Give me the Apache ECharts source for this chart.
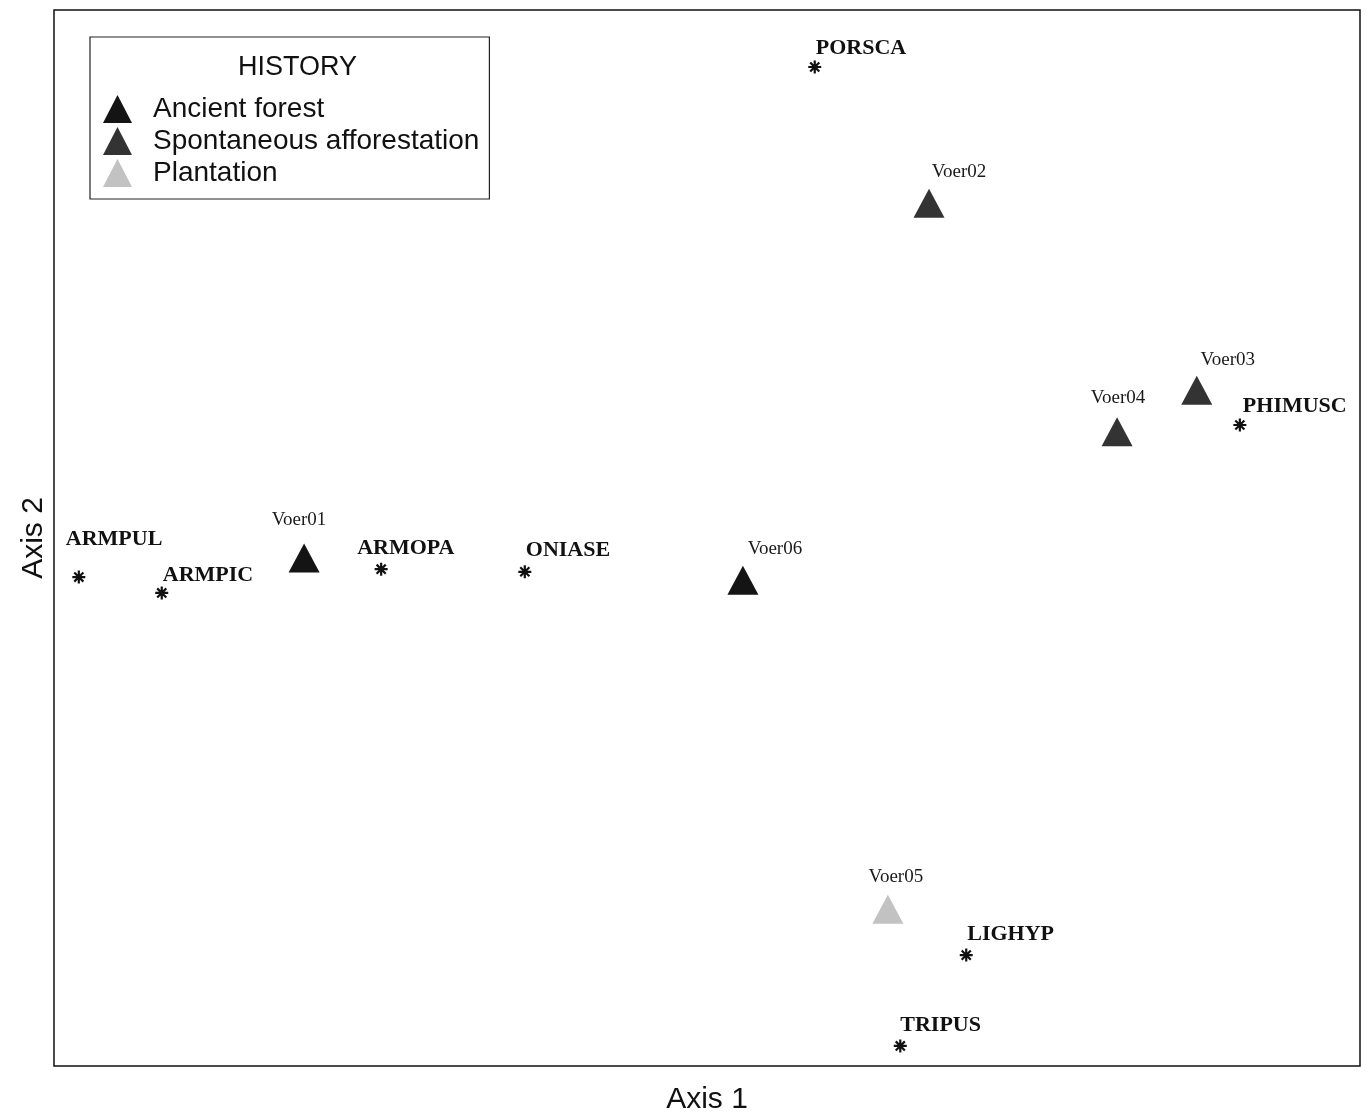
<!DOCTYPE html>
<html>
<head>
<meta charset="utf-8">
<script src="https://cdn.jsdelivr.net/npm/echarts@6/dist/echarts.min.js"></script>
<style>html,body{margin:0;padding:0;background:#fff}#c{width:1367px;height:1113px}</style>
</head>
<body>
<div id="c"></div>
<script>
// ---- data ----
const historyClasses = ['Ancient forest', 'Spontaneous afforestation', 'Plantation'];
const siteNames   = ['Voer01', 'Voer02', 'Voer03', 'Voer04', 'Voer05', 'Voer06'];
const siteHistory = ['Ancient forest', 'Spontaneous afforestation', 'Spontaneous afforestation', 'Spontaneous afforestation', 'Plantation', 'Ancient forest'];
const siteAxis1   = [-0.617, 0.340, 0.750, 0.628, 0.277, 0.055];
const siteAxis2   = [-0.038, 0.634, 0.280, 0.201, -0.703, -0.080];

const speciesNames = ['PORSCA', 'PHIMUSC', 'ARMPUL', 'ARMPIC', 'ARMOPA', 'ONIASE', 'LIGHYP', 'TRIPUS'];
const speciesAxis1 = [0.165, 0.816, -0.962, -0.835, -0.499, -0.279, 0.397, 0.296];
const speciesAxis2 = [0.892, 0.214, -0.074, -0.104, -0.059, -0.064, -0.790, -0.962];

// ---- styling / label placement (not data) ----
const historyColors = {'Ancient forest': '#141414', 'Spontaneous afforestation': '#333333', 'Plantation': '#c2c2c2'};
const labelOffsets = {
  Voer01: [-5, -38], Voer02: [30, -31], Voer03: [31, -30], Voer04: [1, -34], Voer05: [8, -32], Voer06: [32, -31],
  PORSCA: [1, -19], PHIMUSC: [3, -19], ARMPUL: [-13, -38], ARMPIC: [1, -18], ARMOPA: [-24, -21],
  ONIASE: [1, -21], LIGHYP: [1, -21], TRIPUS: [0, -21]
};
const asterisk = 'path://M6,0L6,12M0,6L12,6M1.8,1.8L10.2,10.2M1.8,10.2L10.2,1.8';

const siteSeries = historyClasses.map(h => ({
  name: h,
  type: 'scatter',
  symbol: 'triangle',
  symbolSize: [31, 29],
  itemStyle: {color: historyColors[h], opacity: 1},
  emphasis: {disabled: true},
  label: {
    show: true, position: 'inside', formatter: '{b}',
    fontFamily: 'Liberation Serif', fontSize: 19, color: '#1a1a1a',
    textBorderWidth: 0, align: 'center', verticalAlign: 'middle'
  },
  data: siteNames.map((n, i) => ({n, i})).filter(o => siteHistory[o.i] === h).map(o => ({
    name: o.n, value: [siteAxis1[o.i], siteAxis2[o.i]],
    label: {offset: labelOffsets[o.n]}
  }))
}));

const speciesSeries = {
  name: 'species',
  type: 'scatter',
  symbol: asterisk,
  symbolSize: 13,
  itemStyle: {color: 'none', borderColor: '#111', borderWidth: 2.2, opacity: 1},
  emphasis: {disabled: true},
  label: {
    show: true, position: 'inside', formatter: '{b}',
    fontFamily: 'Liberation Serif', fontWeight: 'bold', fontSize: 22, color: '#111',
    textBorderWidth: 0, textBorderColor: 'transparent', opacity: 1,
    align: 'left', verticalAlign: 'middle'
  },
  data: speciesNames.map((n, i) => ({
    name: n, value: [speciesAxis1[i], speciesAxis2[i]],
    label: {offset: labelOffsets[n]}
  }))
};

const chart = echarts.init(document.getElementById('c'), null, {renderer: 'canvas'});
chart.setOption({
  animation: false,
  backgroundColor: '#fff',
  title: {
    text: 'HISTORY', left: 233, top: 49,
    textStyle: {fontFamily: 'Liberation Sans', fontWeight: 'normal', fontSize: 27, color: '#111'}
  },
  legend: {
    data: historyClasses,
    orient: 'vertical', left: 90, top: 37,
    padding: [58, 10, 12, 13],
    itemWidth: 29, itemHeight: 28, itemGap: 4,
    icon: 'triangle',
    borderColor: '#222', borderWidth: 1.2,
    selectedMode: false,
    textStyle: {fontFamily: 'Liberation Sans', fontSize: 28, color: '#111', padding: [0, 0, 0, 16]}
  },
  grid: {left: 54, top: 10, width: 1306, height: 1056, outerBoundsMode: 'none', containLabel: false,
         show: true, borderColor: '#111', borderWidth: 1.5, backgroundColor: 'transparent'},
  xAxis: {
    type: 'value', min: -1, max: 1,
    name: 'Axis 1', nameLocation: 'middle', nameGap: 19,
    nameTextStyle: {fontFamily: 'Liberation Sans', fontSize: 30, color: '#111', verticalAlign: 'top'},
    axisLine: {show: false}, axisTick: {show: false}, axisLabel: {show: false}, splitLine: {show: false}
  },
  yAxis: {
    type: 'value', min: -1, max: 1,
    name: 'Axis 2', nameLocation: 'middle', nameGap: 5, nameRotate: 90,
    nameTextStyle: {fontFamily: 'Liberation Sans', fontSize: 30, color: '#111', verticalAlign: 'bottom'},
    axisLine: {show: false}, axisTick: {show: false}, axisLabel: {show: false}, splitLine: {show: false}
  },
  series: [speciesSeries].concat(siteSeries)
});
</script>
</body>
</html>
